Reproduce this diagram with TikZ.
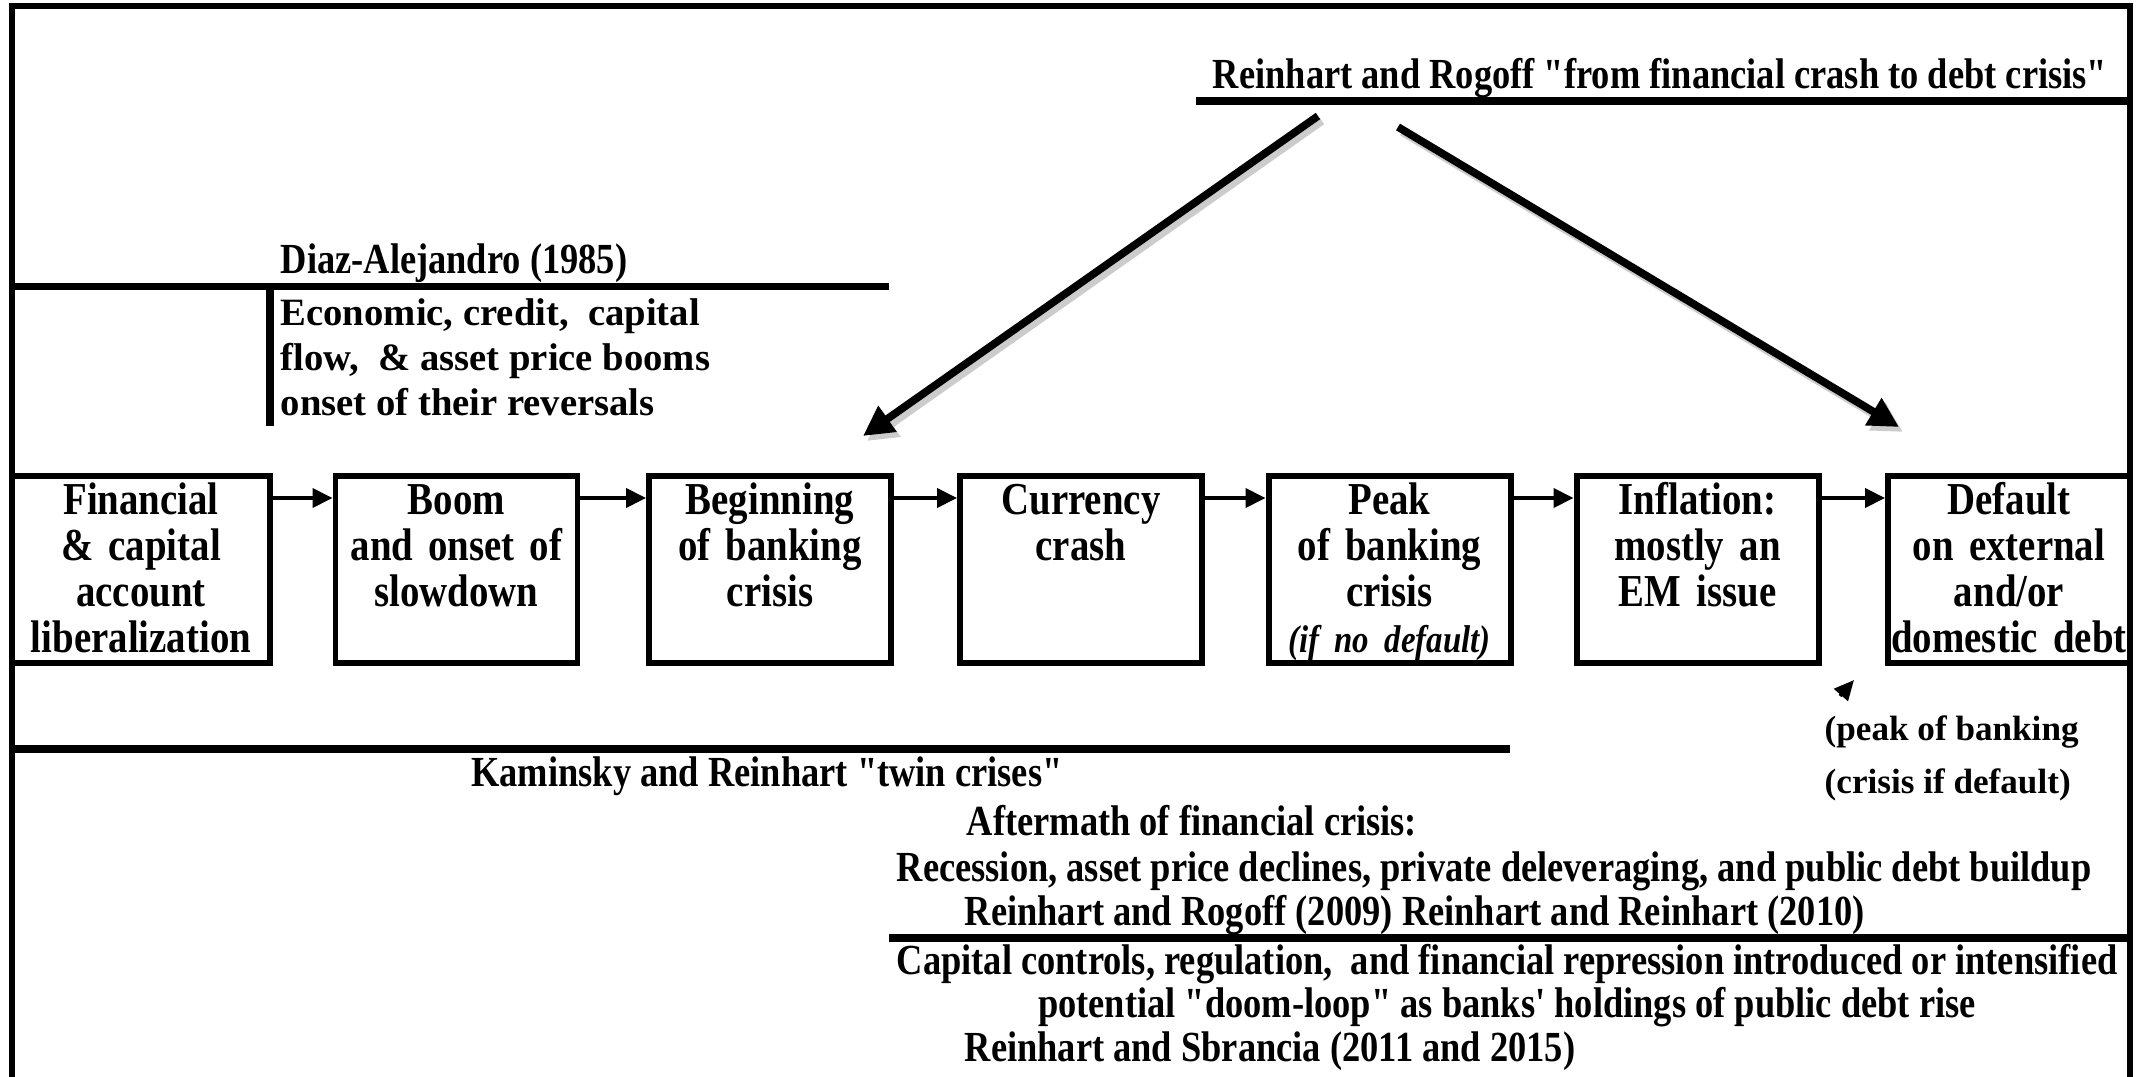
\documentclass[tikz,border=0pt]{standalone}
\usepackage{fontspec}
\setmainfont{Liberation Serif}
\newfontfamily\narrowserif{Liberation Serif}[FakeStretch=0.85]
\newfontfamily\boxserif{Liberation Serif}[FakeStretch=0.85]
\usetikzlibrary{arrows.meta}

\begin{document}
\begin{tikzpicture}[
  frame/.style={line width=1.6pt},
  rule/.style={line width=2pt},
  stage/.style={draw, line width=1.7pt, anchor=north, text width=2.42cm,
    inner xsep=0pt, inner ysep=0pt, align=center,
    text height=0.39cm, text depth=1.48cm,
    font=\boxserif\bfseries\fontsize{13}{13}\selectfont},
  link/.style={line width=1.1pt, -{Triangle[length=0.2cm, width=0.19cm]}},
  bigarrow/.style={line width=2.2pt, -{Triangle[length=0.3cm, width=0.3cm]}},
  head/.style={font=\narrowserif\bfseries\fontsize{12.2}{13}\selectfont, inner sep=0pt},
  note/.style={font=\bfseries\fontsize{11}{12.8}\selectfont, inner sep=0pt, align=left},
]
  \useasboundingbox (0,0) rectangle (21.39,-10.77);

  % frame and rules
  \draw[frame] (0.12,-10.77) -- (0.12,-0.06) -- (21.30,-0.06) -- (21.30,-10.77);
  \draw[rule] (11.96,-1.01) -- (21.30,-1.01);
  \draw[rule] (0.12,-2.865) -- (8.89,-2.865);
  \draw[rule] (2.70,-2.89) -- (2.70,-4.26);
  \draw[rule] (0.12,-7.49) -- (15.10,-7.49);
  \draw[rule] (8.89,-9.38) -- (21.30,-9.38);

  % stages
  \node[stage, text width=2.58cm] (lib) at (1.41,-4.73) {Financial\\\& capital\\account\\liberalization};
  \node[stage] (boom) at (4.565,-4.73) {Boom\\and onset of\\slowdown};
  \node[stage] (bank) at (7.70,-4.73) {Beginning\\of banking\\crisis};
  \node[stage] (curr) at (10.81,-4.73) {Currency\\crash};
  \node[stage] (peak) at (13.895,-4.73) {Peak\\of banking\\crisis\\{\fontsize{11}{13}\selectfont\itshape (if no default)}};
  \node[stage] (infl) at (16.975,-4.73) {Inflation:\\mostly an\\EM issue};
  \node[stage] (dflt) at (20.09,-4.73) {Default\\on external\\and/or\\domestic debt};

  \draw[link] ([yshift=-0.25cm]lib.north east) -- ([yshift=-0.25cm]boom.north west);
  \draw[link] ([yshift=-0.25cm]boom.north east) -- ([yshift=-0.25cm]bank.north west);
  \draw[link] ([yshift=-0.25cm]bank.north east) -- ([yshift=-0.25cm]curr.north west);
  \draw[link] ([yshift=-0.25cm]curr.north east) -- ([yshift=-0.25cm]peak.north west);
  \draw[link] ([yshift=-0.25cm]peak.north east) -- ([yshift=-0.25cm]infl.north west);
  \draw[link] ([yshift=-0.25cm]infl.north east) -- ([yshift=-0.25cm]dflt.north west);

  % labels
  \node[head, anchor=base] (rrhead) at (16.60,-0.89) {Reinhart and Rogoff "from financial crash to debt crisis"};
  \node[head, anchor=base west] (diaz) at (2.80,-2.73) {Diaz-Alejandro (1985)};
  \node[note, anchor=base west] (booms) at (2.80,-4.15) {Economic, credit,\ \ capital\\flow,\ \ \& asset price booms\\onset of their reversals};
  \node[head, anchor=base] (twin) at (7.67,-7.86) {Kaminsky and Reinhart "twin crises"};
  \node[note, font=\bfseries\fontsize{10}{14.8}\selectfont, anchor=base west] (pknote) at (18.24,-7.93) {(peak of banking\\(crisis if default)};

  \node[head, anchor=base west] (aft1) at (9.66,-8.35) {Aftermath of financial crisis:};
  \node[head, anchor=base west] (aft2) at (8.96,-8.81) {Recession, asset price declines, private deleveraging, and public debt buildup};
  \node[head, anchor=base west] (aft3) at (9.64,-9.25) {Reinhart and Rogoff (2009) Reinhart and Reinhart (2010)};
  \node[head, anchor=base west] (rep1) at (8.96,-9.74) {Capital controls, regulation,\ \ and financial repression introduced or intensified};
  \node[head, anchor=base] (rep2) at (15.07,-10.17) {potential "doom-loop" as banks' holdings of public debt rise};
  \node[head, anchor=base west] (rep3) at (9.64,-10.61) {Reinhart and Sbrancia (2011 and 2015)};

  % arrows from the Reinhart-Rogoff heading
  \coordinate (rrleft) at (13.18,-1.16);
  \coordinate (rrright) at (13.98,-1.27);
  \coordinate (tobank) at (8.63,-4.36);
  \coordinate (todflt) at (18.99,-4.27);
  \draw[bigarrow, black!20] ([shift={(0.04,-0.05)}]rrleft) -- ([shift={(0.04,-0.05)}]tobank);
  \draw[bigarrow, black!20] ([shift={(0.04,-0.05)}]rrright) -- ([shift={(0.04,-0.05)}]todflt);
  \draw[bigarrow] (rrleft) -- (tobank);
  \draw[bigarrow] (rrright) -- (todflt);

  \coordinate (pkfrom) at (18.40,-6.96);
  \coordinate (pkto) at (18.54,-6.80);
  \draw[line width=1pt, -{Triangle[length=0.2cm, width=0.18cm]}] (pkfrom) -- (pkto);
\end{tikzpicture}
\end{document}
